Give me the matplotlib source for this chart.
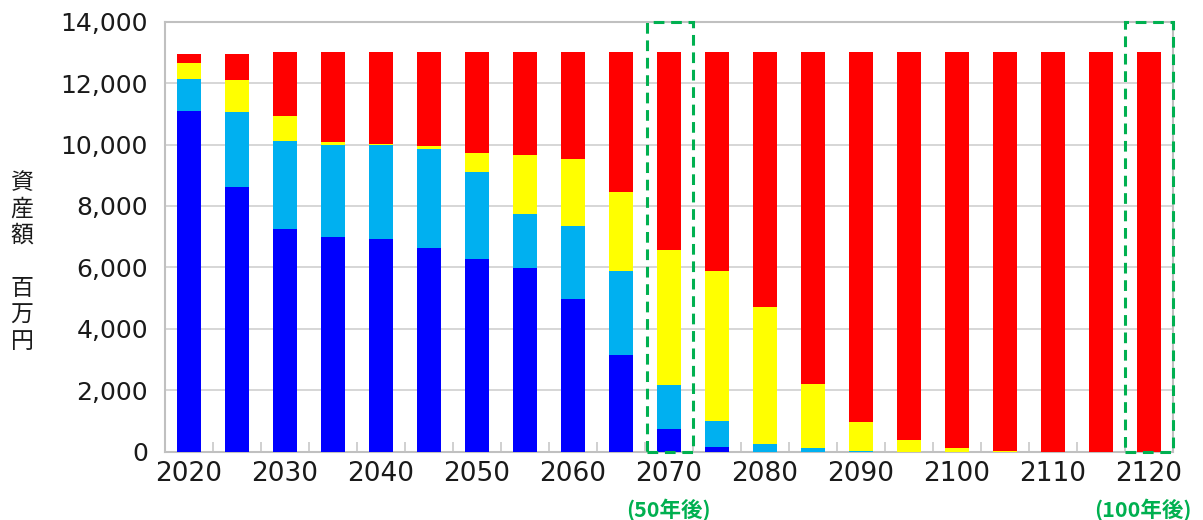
import matplotlib

matplotlib.use("Agg")
import matplotlib.pyplot as plt
from matplotlib.patches import Rectangle
from matplotlib.ticker import FixedLocator, FuncFormatter
import numpy as np

plt.rcParams["font.family"] = ["DejaVu Sans", "Noto Sans CJK JP"]

years = list(range(2020, 2125, 5))

# asset value by tier, million yen (stacked bottom -> top)
blue = [11090, 8620, 7250, 6990, 6930, 6620, 6280, 5980, 4980, 3140, 750,
        150, 0, 0, 0, 0, 0, 0, 0, 0, 0]
light_blue = [1040, 2430, 2850, 3010, 3060, 3230, 2820, 1750, 2380, 2750, 1410,
              860, 260, 130, 20, 0, 0, 0, 0, 0, 0]
yellow = [510, 1040, 820, 90, 30, 100, 630, 1940, 2160, 2550, 4400,
          4860, 4460, 2090, 950, 390, 130, 30, 0, 0, 0]
red = [320, 870, 2080, 2910, 2980, 3050, 3270, 3330, 3480, 4560, 6440,
       7130, 8280, 10780, 12030, 12610, 12870, 12970, 13000, 13000, 13000]

highlight_years = [2070, 2120]
highlight_labels = ["(50年後)", "(100年後)"]

series = [blue, light_blue, yellow, red]
colors = ["#0000FF", "#00B0F0", "#FFFF00", "#FF0000"]

fig = plt.figure(figsize=(12.03, 5.2), dpi=100)
ax = fig.add_axes([0.1369, 0.1313, 0.8379, 0.8270])

x = np.arange(len(years))
bottom = np.zeros(len(years))
for vals, c in zip(series, colors):
    vals = np.array(vals, dtype=float)
    ax.bar(x, vals, width=0.5, bottom=bottom, color=c, edgecolor="none", zorder=3)
    bottom += vals

ax.set_xlim(-0.5, len(years) - 0.5)
ax.set_ylim(0, 14000)
ax.set_yticks(np.arange(0, 14001, 2000))
ax.yaxis.set_major_formatter(FuncFormatter(lambda v, _: f"{int(v):,}"))
ax.grid(axis="y", color="#D0D0D0", lw=1.2, zorder=0)

ax.set_xticks(x[::2])
ax.set_xticklabels([str(y) for y in years[::2]])
ax.xaxis.set_minor_locator(FixedLocator(np.arange(0.5, len(years) - 1, 1.0)))
ax.tick_params(axis="x", which="major", length=0, pad=7, labelsize=19, labelcolor="#1a1a1a")
ax.tick_params(axis="x", which="minor", direction="in", length=7, color="#C8C8C8", width=1.2)
ax.tick_params(axis="y", length=0, pad=12, labelsize=18, labelcolor="#1a1a1a")

for s in ax.spines.values():
    s.set_color("#C0C0C0")
    s.set_linewidth(1.5)

# dashed boxes around the 50- and 100-year marks
for yr, lab in zip(highlight_years, highlight_labels):
    i = years.index(yr)
    left = i - 0.46 if i < len(years) - 1 else i - 0.5
    right = min(i + 0.5, len(years) - 0.5)
    ax.add_patch(Rectangle((left, 0), right - left, 14000, fill=False,
                           edgecolor="#00B050", lw=2.2, linestyle=(0, (3.5, 2.2)),
                           clip_on=False, zorder=5))
    xt = i if i < len(years) - 1 else i - 0.12
    ax.text(xt, -0.135, lab, transform=ax.get_xaxis_transform(), ha="center", va="center",
            color="#00B050", fontsize=15.5, fontweight="bold",
            family=["Noto Sans CJK JP", "DejaVu Sans"])

fig.text(22 / 1203, 1 - 262 / 520, "資\n産\n額\n\n百\n万\n円", ha="center", va="center",
         fontsize=16.5, linespacing=1.2, color="#1a1a1a", family=["Noto Sans CJK JP"])

fig.savefig("out.png", dpi=100)
